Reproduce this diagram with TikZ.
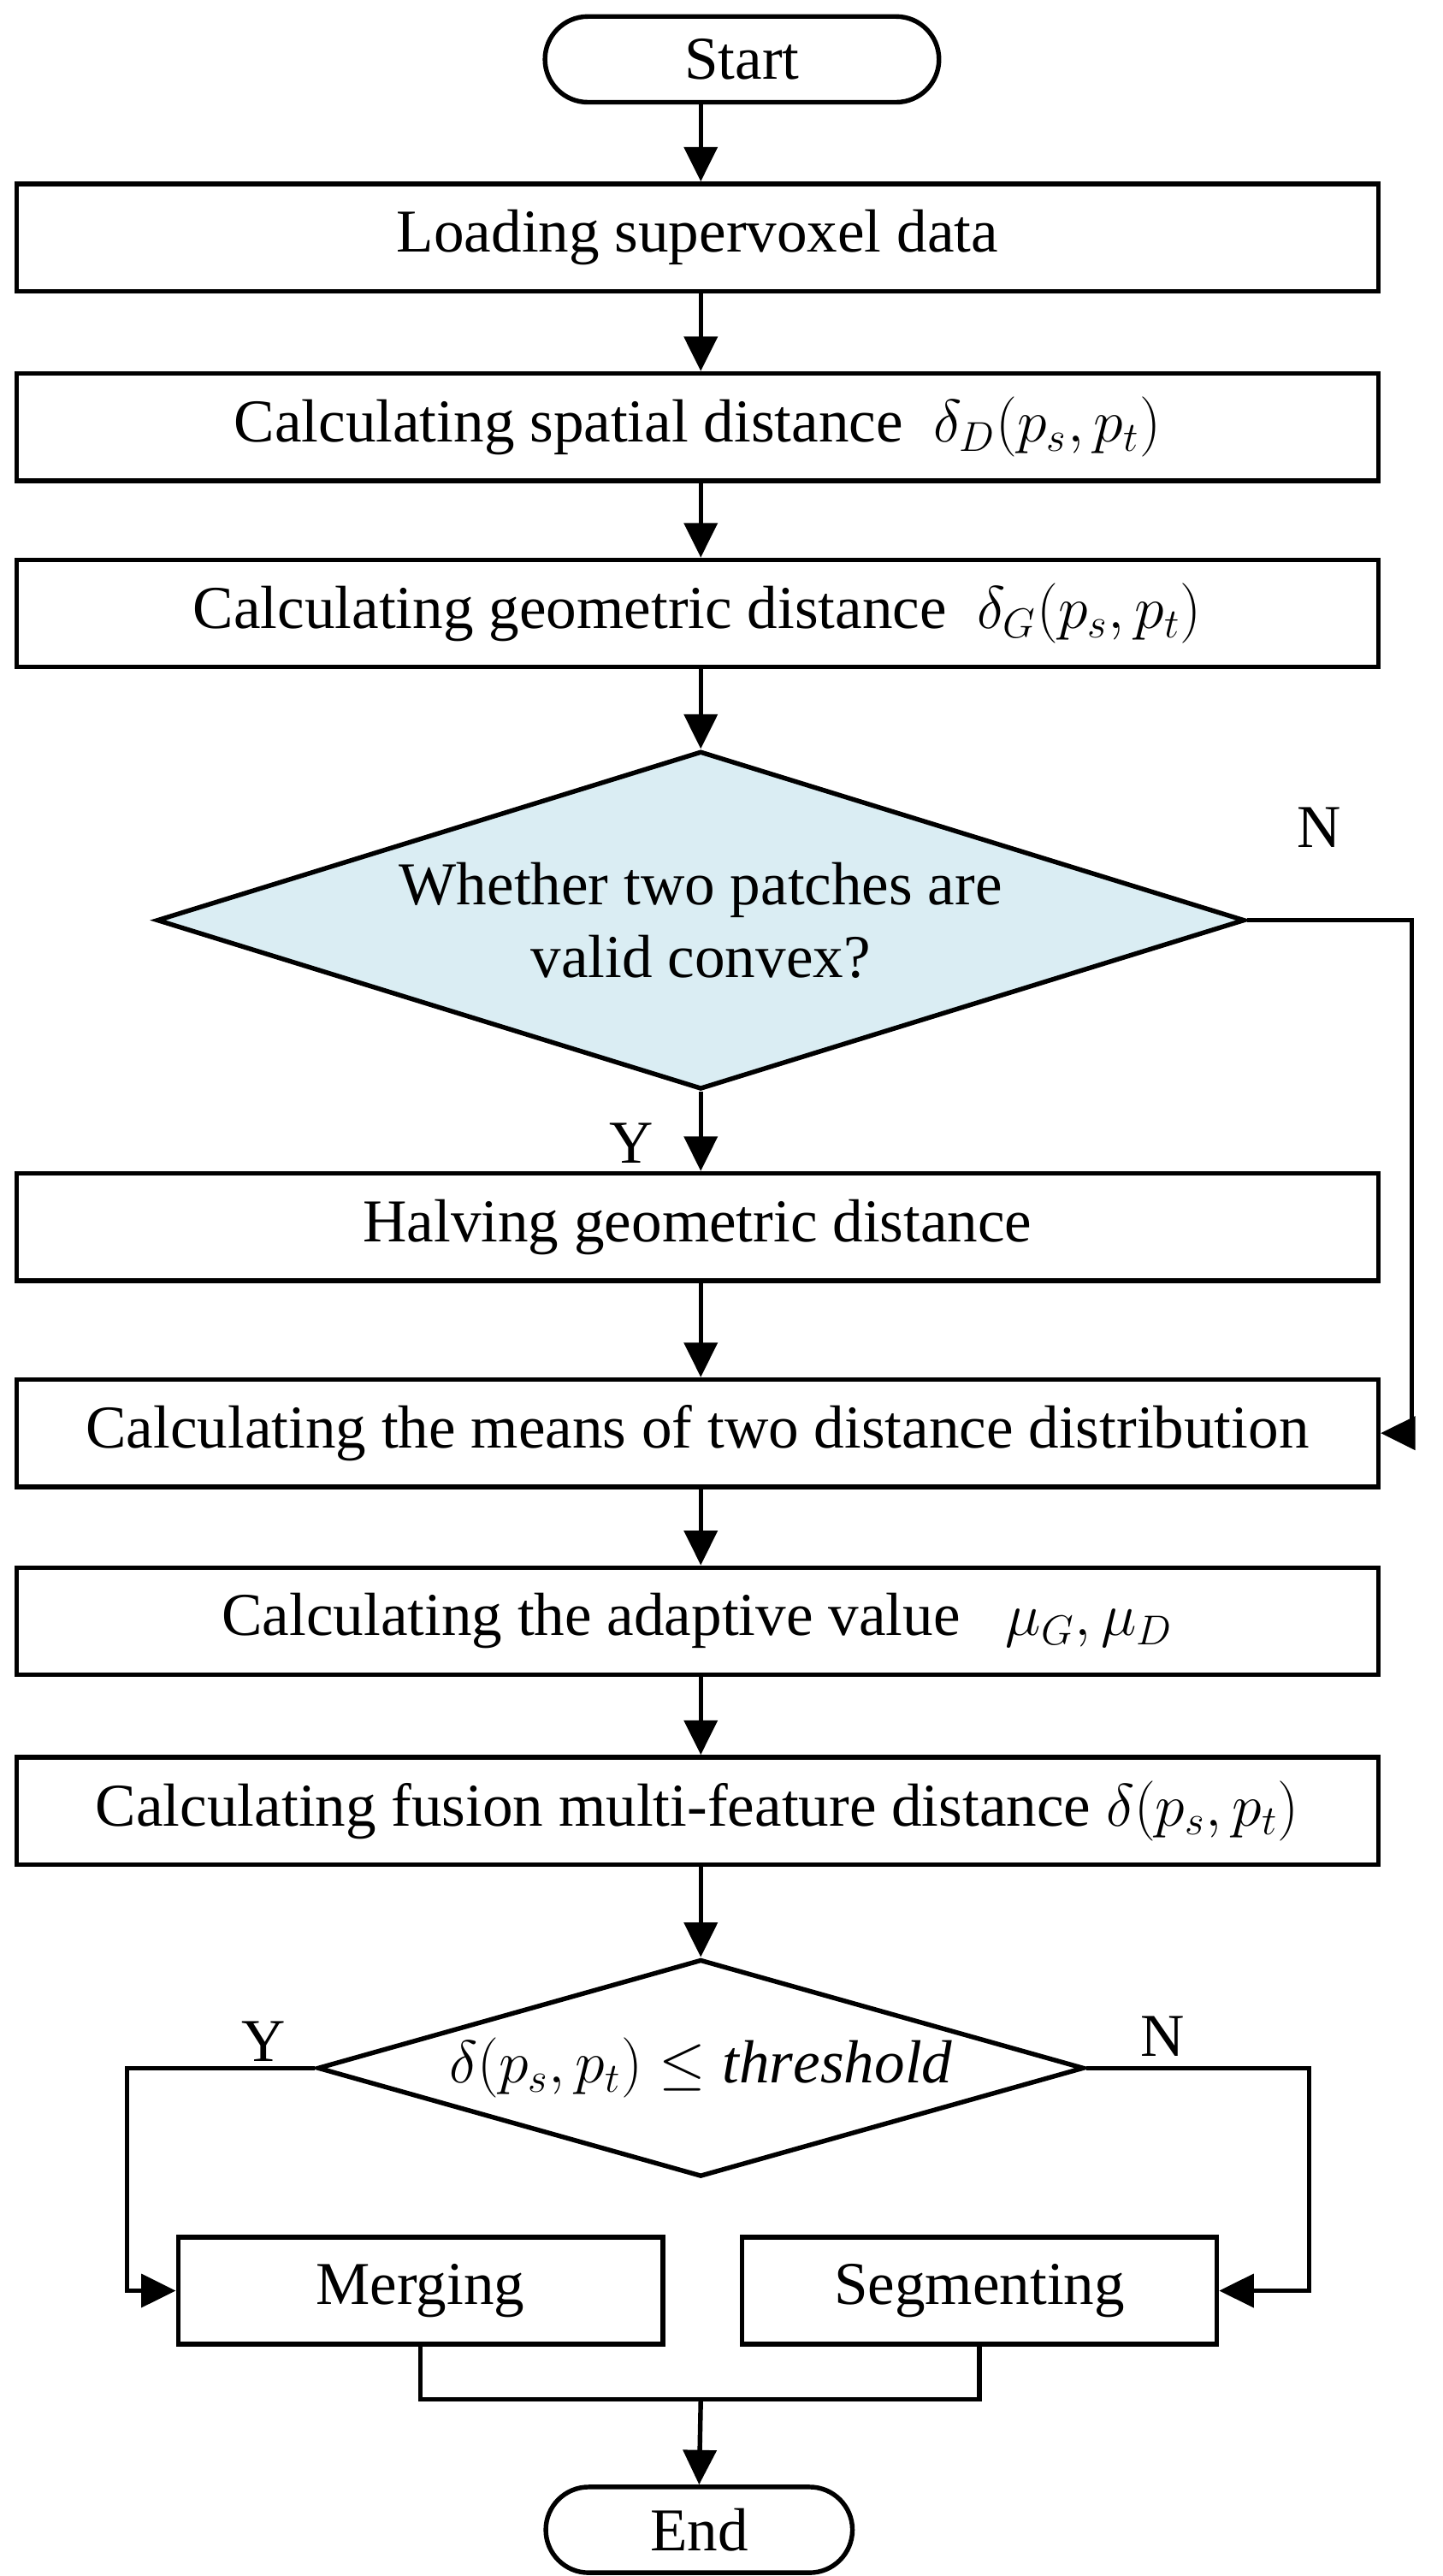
\documentclass[tikz,border=0pt]{standalone}
\usepackage{fontspec}
\usepackage{amsmath}
\setmainfont{Liberation Serif}
\usetikzlibrary{shapes.geometric, arrows.meta, positioning}
\definecolor{decisionblue}{RGB}{218, 237, 243}

\begin{document}
\begin{tikzpicture}[x=0.02cm, y=-0.02cm,
        every node/.style={font=\fontsize{21}{25}\selectfont},
        process/.style={draw, line width=1.6pt, minimum width=16.52cm, minimum height=1.3cm, align=center},
        term/.style={draw, line width=1.6pt, rounded corners=0.52cm, minimum height=1.04cm},
        decision/.style={draw, line width=1.6pt, diamond, aspect=3.2, inner sep=0pt, align=center},
        arrow/.style={-{Triangle[length=0.42cm, width=0.4cm]}, line width=1.6pt},
        line/.style={line width=1.6pt}
    ]
        \useasboundingbox (0,0) rectangle (875,1562);
        \node[term, minimum width=4.78cm] (start) at (450,36) {Start};
        \node[process] (load) at (423,144) {Loading supervoxel data};
        \node[process] (spatial) at (423,259) {Calculating spatial distance \ $\delta_D(p_s,p_t)$};
        \node[process] (geom) at (423,372) {Calculating geometric distance \ $\delta_G(p_s,p_t)$};
        \node[decision, fill=decisionblue, minimum width=13.2cm, minimum height=4.1cm] (convex) at (425,558) {Whether two patches are\\valid convex?};
        \node[process] (halve) at (423,744) {Halving geometric distance};
        \node[process] (means) at (423,869) {Calculating the means of two distance distribution};
        \node[process] (adapt) at (423,983) {Calculating the adaptive value \ \ $\mu_G,\mu_D$};
        \node[process] (fusion) at (423,1098) {Calculating fusion multi-feature distance $\delta(p_s,p_t)$};
        \node[decision, minimum width=9.3cm, minimum height=2.46cm] (thresh) at (425,1254) {$\delta(p_s,p_t)\le \mathit{threshold}$};
        \node[process, minimum width=5.88cm] (merge) at (255,1389) {Merging};
        \node[process, minimum width=5.76cm] (segment) at (594,1389) {Segmenting};
        \node[term, minimum width=3.72cm] (end) at (424,1534) {End};
        \coordinate (join) at (425,1455);

        \draw[arrow] (start.south -| convex) -- (load.north -| convex);
        \draw[arrow] (load.south -| convex) -- (spatial.north -| convex);
        \draw[arrow] (spatial.south -| convex) -- (geom.north -| convex);
        \draw[arrow] (geom.south -| convex) -- (convex.north);
        \draw[arrow] (convex.south) -- (halve.north -| convex);
        \draw[arrow] (halve.south -| convex) -- (means.north -| convex);
        \draw[arrow] (convex.east) -- ++(100,0) |- (means.east);
        \draw[arrow] (means.south -| convex) -- (adapt.north -| convex);
        \draw[arrow] (adapt.south -| convex) -- (fusion.north -| convex);
        \draw[arrow] (fusion.south -| convex) -- (thresh.north);
        \draw[arrow] (thresh.west) -- ++(-114,0) |- (merge.west);
        \draw[arrow] (thresh.east) -- ++(135,0) |- (segment.east);
        \draw[line] (merge.south) |- (join) -| (segment.south);
        \draw[arrow] (join) -- (end.north);

        \node at (800,502) {N};
        \node at (383,693) {Y};
        \node at (160,1238) {Y};
        \node at (705,1235) {N};
    \end{tikzpicture}
\end{document}
